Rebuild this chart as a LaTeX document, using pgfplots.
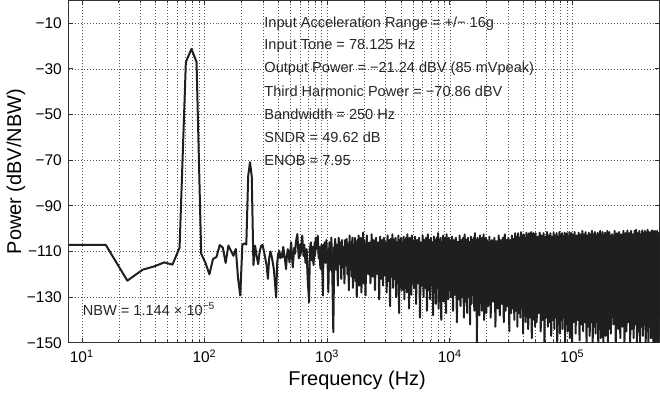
\documentclass[border=0pt]{standalone}
\usepackage{fontspec}
\setmainfont{Liberation Sans}
\usepackage{pgfplots}
\pgfplotsset{compat=1.18}

\definecolor{trace}{RGB}{32,30,31}
\definecolor{gridc}{RGB}{90,90,90}

\begin{document}
\begin{tikzpicture}
\begin{axis}[
  scale only axis,
  width=296pt, height=171.5pt,
  xmode=log,
  xmin=7.8125, xmax=512000,
  ymin=-150, ymax=0,
  xtick={10,100,1000,10000,100000},
  xticklabels={10\textsuperscript{1},10\textsuperscript{2},10\textsuperscript{3},10\textsuperscript{4},10\textsuperscript{5}},
  ytick={-150,-130,-110,-90,-70,-50,-30,-10},
  yticklabels={−150,−130,−110,−90,−70,−50,−30,−10},
  tick label style={font=\fontsize{7.75}{8}\selectfont},
  tick align=inside,
  major tick length=2.2pt,
  minor tick length=1.4pt,
  xmajorgrids, xminorgrids, ymajorgrids,
  major grid style={gridc, line width=0.35pt, dash pattern=on 0.45pt off 1.05pt},
  minor grid style={gridc, line width=0.35pt, dash pattern=on 0.45pt off 1.05pt},
  axis line style={black!80, line width=0.45pt},
  every tick/.style={black!80, line width=0.45pt},
  xlabel={Frequency (Hz)},
  ylabel={Power (dBV/NBW)},
  label style={font=\fontsize{7.75}{8}\selectfont},
  every axis x label/.style={at={(axis description cs:0.488,-0.111)}, anchor=center},
  every axis y label/.style={at={(axis description cs:-0.0895,0.5)}, rotate=90, anchor=center},
]

%% solid core of the dense noise floor (envelope)
\addplot[fill=trace, draw=none, forget plot] coordinates {
  (1100,-108) (1500,-107.5) (2000,-106.5) (3000,-106) (5000,-106)
  (10000,-105.5) (20000,-105.5) (34000,-104.5) (50000,-104)
  (100000,-103.5) (200000,-103) (512000,-103)
  (512000,-139) (200000,-138) (100000,-137) (50000,-134) (30000,-131)
  (20000,-129) (10000,-126) (5000,-123) (3000,-121) (2000,-119)
  (1500,-117) (1100,-115)
};

%% spectrum
\addplot[trace, line width=1pt, line join=round] coordinates {
  % bins 1..32 (78.125 Hz tone, third harmonic at 234.4 Hz)
  (7.8125,-107.1) (15.625,-107.1) (23.4375,-122.8) (31.25,-118.0)
  (39.0625,-116.5) (46.875,-114.8) (54.6875,-115.8) (62.5,-108.3)
  (70.3125,-27.0) (78.125,-21.24) (85.9375,-27.0) (93.75,-111)
  (101.5625,-115) (109.375,-120) (117.1875,-113.3) (125,-112.4)
  (132.8125,-107.2) (140.625,-108.3) (148.4375,-115) (156.25,-107.4)
  (164.0625,-109.7) (171.875,-111.9) (179.6875,-108.9) (187.5,-122)
  (195.3125,-129.3) (203.125,-107) (210.9375,-106.5) (218.75,-107)
  (226.5625,-77) (234.375,-70.86) (242.1875,-77) (250,-116)
  % 250 Hz .. 1 kHz
  (257.8,-107.5) (265.6,-112) (273.4,-115.6) (281.3,-110) (289.1,-107.5)
  (296.9,-107.2) (304.7,-110) (312.5,-113) (320.3,-116.2) (328.1,-122)
  (335.9,-113) (343.8,-110) (351.6,-112) (359.4,-114.8) (367.2,-118)
  (375,-124) (382.8,-130.2) (390.6,-115) (398.4,-111) (406.3,-109.7)
  (414.1,-113) (421.9,-111) (429.7,-112.6) (437.5,-108) (445.3,-111)
  (453.1,-114) (460.9,-117.7) (468.8,-112) (476.6,-109) (484.4,-111)
  (492.2,-114.8) (500,-110) (507.8,-106) (515.6,-112) (523.4,-117)
  (531.3,-112) (539.1,-108.3) (546.9,-111) (554.7,-106) (562.5,-104)
  (570.3,-102.4) (578.1,-108) (585.9,-113) (593.8,-107) (601.6,-112)
  (609.4,-110.4) (617.2,-106) (625,-103.1) (632.8,-108) (640.6,-112)
  (648.4,-107) (656.3,-110) (664.1,-115) (671.9,-113.3) (679.7,-109)
  (687.5,-118) (695.3,-124) (703.1,-128) (710.9,-132.3) (718.8,-115)
  (726.6,-108) (734.4,-106) (742.2,-111) (750,-114) (757.8,-108)
  (765.6,-112) (773.4,-116) (781.3,-110.4) (789.1,-106) (796.9,-112)
  (804.7,-104) (812.5,-109) (820.3,-106) (828.1,-108) (835.9,-103.1)
  (843.8,-109) (851.6,-113) (859.4,-108) (867.2,-112) (875,-116)
  (882.8,-117.7) (890.6,-110) (898.4,-107) (906.3,-114) (914.1,-120)
  (921.9,-129.3) (929.7,-112) (937.5,-107) (945.3,-111) (953.1,-106)
  (960.9,-109) (968.8,-115) (976.6,-110) (984.4,-105) (992.2,-112)
  % 1 kHz .. 2 kHz
  (1000,-109) (1020,-127.9) (1040,-106) (1060,-118) (1080,-103.9)
  (1100,-121) (1120,-145.4) (1140,-110.4) (1160,-104.5) (1180,-118)
  (1200,-107) (1220,-125) (1240,-104) (1260,-115) (1280,-106)
  (1300,-122) (1320,-105) (1340,-117) (1360,-108) (1380,-124)
  (1400,-105) (1420,-114) (1440,-104.5) (1460,-120) (1480,-107)
  (1500,-127) (1520,-103) (1540,-118) (1560,-106) (1580,-121)
  (1600,-104) (1620,-126) (1640,-107) (1660,-119) (1680,-104)
  (1700,-123) (1720,-106) (1740,-130) (1760,-105) (1780,-120)
  (1800,-103) (1820,-125) (1840,-107) (1860,-118) (1880,-104)
  (1900,-128) (1920,-106) (1940,-121) (1960,-101.7) (1980,-124)
  % 2 kHz .. 5 kHz
  (2000,-105) (2050,-129.3) (2100,-103) (2150,-120) (2200,-106)
  (2250,-124) (2300,-102.5) (2350,-121) (2400,-105) (2450,-127)
  (2500,-104) (2550,-119) (2600,-106) (2650,-131) (2700,-103.5)
  (2750,-122) (2800,-105) (2850,-125) (2900,-104) (2950,-120)
  (3000,-106) (3050,-128) (3100,-103) (3150,-123) (3200,-105)
  (3250,-134) (3300,-104.5) (3350,-121) (3400,-102.5) (3450,-126)
  (3500,-105) (3550,-122) (3600,-104) (3650,-130) (3700,-106)
  (3750,-124) (3800,-103) (3850,-137) (3900,-105) (3950,-122)
  (4000,-104) (4050,-127) (4100,-106) (4150,-123) (4200,-103.5)
  (4250,-131) (4300,-105) (4350,-124) (4400,-104) (4450,-128)
  (4500,-102.5) (4550,-123) (4600,-105) (4650,-135) (4700,-104)
  (4750,-125) (4800,-106) (4850,-129) (4900,-103) (4950,-124)
  % 5 kHz .. 10 kHz
  (5000,-105) (5100,-126) (5200,-103.5) (5300,-133) (5400,-105)
  (5500,-124) (5600,-104) (5700,-139) (5800,-106) (5900,-125)
  (6000,-103) (6100,-130) (6200,-105) (6300,-126) (6400,-104)
  (6500,-136) (6600,-102.5) (6700,-127) (6800,-105) (6900,-131)
  (7000,-104) (7100,-125) (7200,-106) (7300,-138) (7400,-103.5)
  (7500,-128) (7600,-105) (7700,-133) (7800,-104) (7900,-126)
  (8000,-102) (8100,-135) (8200,-105) (8300,-127) (8400,-104)
  (8500,-140) (8600,-106) (8700,-129) (8800,-103) (8900,-132)
  (9000,-105) (9100,-126) (9200,-104) (9300,-137) (9400,-102.5)
  (9500,-128) (9600,-105) (9700,-131) (9800,-104) (9900,-127)
  % 10 kHz .. 20 kHz
  (10000,-105) (10200,-130) (10400,-103.5) (10600,-136) (10800,-105)
  (11000,-129) (11200,-104) (11400,-141) (11600,-106) (11800,-131)
  (12000,-103) (12200,-134) (12400,-105) (12600,-130) (12800,-104)
  (13000,-139) (13200,-102.5) (13400,-132) (13600,-105) (13800,-137)
  (14000,-104) (14200,-130) (14400,-106) (14600,-142) (14800,-103.5)
  (15000,-133) (15200,-105) (15400,-129) (15600,-104) (15800,-136)
  (16000,-102) (16200,-131) (16400,-105) (16600,-150) (16800,-104)
  (17000,-133) (17200,-106) (17400,-138) (17600,-103) (17800,-131)
  (18000,-105) (18200,-136) (18400,-104) (18600,-132) (18800,-102.5)
  (19000,-140) (19200,-105) (19400,-133) (19600,-104) (19800,-137)
  % 20 kHz .. 50 kHz
  (20000,-105) (20500,-134) (21000,-103.5) (21500,-139) (22000,-105)
  (22500,-132) (23000,-104) (23500,-143) (24000,-106) (24500,-135)
  (25000,-103) (25500,-138) (26000,-105) (26500,-133) (27000,-104)
  (27500,-141) (28000,-102.5) (28500,-136) (29000,-105) (29500,-134)
  (30000,-104) (30500,-145) (31000,-105.5) (31500,-137) (32000,-103)
  (32500,-135) (33000,-104.5) (33500,-140) (34000,-102) (34500,-136)
  (35000,-103.5) (35500,-143) (36000,-102) (36500,-137) (37000,-104)
  (37500,-139) (38000,-101.5) (38500,-135) (39000,-103) (39500,-146)
  (40000,-102.5) (40500,-138) (41000,-104) (41500,-141) (42000,-101.8)
  (42500,-136) (43000,-103) (43500,-144) (44000,-102) (44500,-139)
  (45000,-103.5) (45500,-137) (46000,-101.5) (46500,-148) (47000,-103)
  (47500,-140) (48000,-102) (48500,-138) (49000,-103.5) (49500,-143)
  % 50 kHz .. 100 kHz
  (50000,-102) (51000,-141) (52000,-103.5) (53000,-137) (54000,-101.8)
  (55000,-145) (56000,-103) (57000,-140) (58000,-102) (59000,-150)
  (60000,-103.5) (61000,-139) (62000,-101.5) (63000,-143) (64000,-103)
  (65000,-141) (66000,-102) (67000,-147) (68000,-103.5) (69000,-140)
  (70000,-101.8) (71000,-144) (72000,-103) (73000,-139) (74000,-102)
  (75000,-150) (76000,-103.5) (77000,-142) (78000,-101.5) (79000,-146)
  (80000,-103) (81000,-140) (82000,-102) (83000,-144) (84000,-103.5)
  (85000,-139) (86000,-101.8) (87000,-150) (88000,-103) (89000,-142)
  (90000,-102) (91000,-145) (92000,-103.5) (93000,-140) (94000,-101.5)
  (95000,-148) (96000,-103) (97000,-141) (98000,-102) (99000,-150)
  % 100 kHz .. 200 kHz
  (100000,-102.5) (102000,-141) (104000,-101.5) (106000,-146) (108000,-103)
  (110000,-140) (112000,-101.8) (114000,-149) (116000,-102.5) (118000,-142)
  (120000,-101) (122000,-145) (124000,-102.5) (126000,-141) (128000,-101.5)
  (130000,-150) (132000,-103) (134000,-143) (136000,-101.8) (138000,-147)
  (140000,-102.5) (142000,-141) (144000,-101) (146000,-150) (148000,-102.5)
  (150000,-143) (152000,-101.5) (154000,-146) (156000,-103) (158000,-141)
  (160000,-101.8) (162000,-150) (164000,-102.5) (166000,-144) (168000,-101)
  (170000,-148) (172000,-102.5) (174000,-142) (176000,-101.5) (178000,-150)
  (180000,-103) (182000,-143) (184000,-101.8) (186000,-147) (188000,-102.5)
  (190000,-141) (192000,-101) (194000,-150) (196000,-102.5) (198000,-144)
  % 200 kHz .. 512 kHz
  (200000,-101.5) (205000,-146) (210000,-102.5) (215000,-142) (220000,-101)
  (225000,-150) (230000,-102) (235000,-144) (240000,-101.5) (245000,-148)
  (250000,-102.5) (255000,-143) (260000,-101) (265000,-150) (270000,-102)
  (275000,-145) (280000,-100.8) (285000,-141) (290000,-102) (295000,-150)
  (300000,-101) (305000,-144) (310000,-102.5) (315000,-148) (320000,-101)
  (325000,-142) (330000,-100.5) (335000,-150) (340000,-102) (345000,-145)
  (350000,-101) (355000,-150) (360000,-102.5) (365000,-143) (370000,-100.8)
  (375000,-147) (380000,-102) (385000,-142) (390000,-101) (395000,-150)
  (400000,-102) (405000,-145) (410000,-100.5) (415000,-150) (420000,-101.5)
  (425000,-143) (430000,-102.5) (435000,-148) (440000,-101) (445000,-144)
  (450000,-100.8) (455000,-150) (460000,-102) (465000,-146) (470000,-101)
  (475000,-150) (480000,-102.5) (485000,-143) (490000,-101) (495000,-150)
  (500000,-102) (505000,-147) (512000,-101.5)
};

%% annotations
\begin{scope}[every node/.style={anchor=west, inner sep=0pt, text=black!85, font=\fontsize{7.3}{8}\selectfont}]
\node at (axis cs:305,-10) {Input Acceleration Range = +/− 16g};
\node at (axis cs:305,-20) {Input Tone = 78.125 Hz};
\node at (axis cs:305,-30) {Output Power = −21.24 dBV (85 mVpeak)};
\node at (axis cs:305,-40) {Third Harmonic Power = −70.86 dBV};
\node at (axis cs:305,-50) {Bandwidth = 250 Hz};
\node at (axis cs:305,-60) {SNDR = 49.62 dB};
\node at (axis cs:305,-70) {ENOB = 7.95};
\node at (axis cs:10.1,-135.4) {NBW = 1.144 × 10\textsuperscript{−5}};
\end{scope}

\end{axis}
\end{tikzpicture}
\end{document}
